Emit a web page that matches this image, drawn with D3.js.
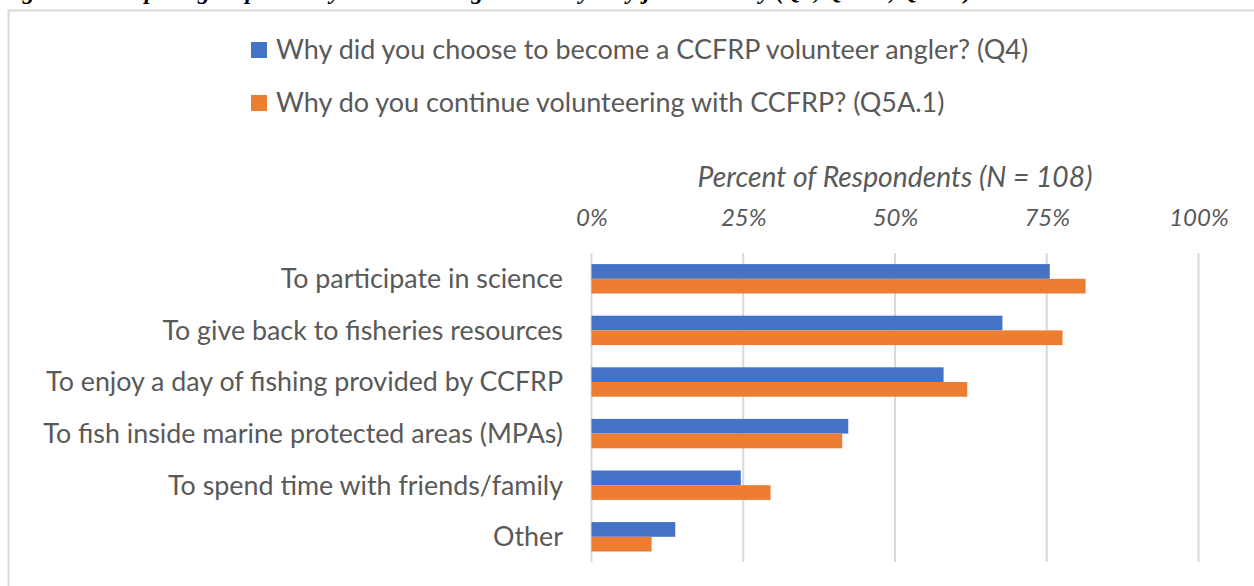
<!DOCTYPE html>
<html><head><meta charset="utf-8">
<script src="https://cdn.jsdelivr.net/npm/d3@7"></script>
<style>
html,body{margin:0;padding:0;background:#fff;}
svg{display:block;}
text{font-family:Lato,"Open Sans","Noto Sans",sans-serif;}
</style></head>
<body>
<svg id="chart" width="1254" height="586"></svg>
<script>
const categories = [
  "To participate in science",
  "To give back to fisheries resources",
  "To enjoy a day of fishing provided by CCFRP",
  "To fish inside marine protected areas (MPAs)",
  "To spend time with friends/family",
  "Other"
];
const seriesNames = [
  "Why did you choose to become a CCFRP volunteer angler? (Q4)",
  "Why do you continue volunteering with CCFRP? (Q5A.1)"
];
const q4Values = [75.5, 67.7, 58.0, 42.3, 24.6, 13.8];
const q5Values = [81.4, 77.6, 61.9, 41.3, 29.5, 9.9];
const tickValues = [0, 25, 50, 75, 100];
const axisTitle = "Percent of Respondents (N = 108)";
const cutTitle = "Figure 2. Comparing responses by volunteer anglers to why they join and stay (Q4, Q5A.1, Q5A.2)";
const colors = ["#4472c4", "#ed7d31"];

const svg = d3.select("#chart");
const textColor = "#595959";

// cut-off caption at very top (cropped in the reference)
svg.append("text").attr("x", 0).attr("y", -1)
  .style("font-family", "'Liberation Serif','DejaVu Serif',serif")
  .style("font-style", "italic").style("font-weight", "bold")
  .style("font-size", "24px").attr("fill", "#000").text(cutTitle);

// chart frame
svg.append("path").attr("d", "M8.5,586 V10.5 H1254")
  .attr("fill", "none").attr("stroke", "#d9d9d9").attr("stroke-width", 2);

const x = d3.scaleLinear().domain([0, 100]).range([591.5, 1198.5]);
const y = d3.scaleBand().domain(categories).range([253, 562.6]).paddingInner(0.43).paddingOuter(0.215);
const ySub = d3.scaleBand().domain([0, 1]).range([0, y.bandwidth()]);

// gridlines
svg.append("g").selectAll("line").data(tickValues).join("line")
  .attr("x1", d => x(d)).attr("x2", d => x(d))
  .attr("y1", 253).attr("y2", 562)
  .attr("stroke", "#d9d9d9").attr("stroke-width", 2);

// top axis tick labels
const axis = d3.axisTop(x).tickValues(tickValues).tickFormat(d => d + "%").tickSize(0).tickPadding(0);
const gAxis = svg.append("g").attr("transform", "translate(0,226)").call(axis);
gAxis.select(".domain").remove();
gAxis.selectAll("text").attr("fill", textColor)
  .style("font-size", "24px").style("font-style", "italic")
  .style("font-family", "Lato,'Open Sans',sans-serif");

// axis title
svg.append("text").attr("x", x(50)).attr("y", 177).attr("dy", "0.35em")
  .attr("text-anchor", "middle").attr("fill", textColor)
  .style("font-size", "23px").style("font-style", "italic").text(axisTitle);

// bars
const series = [q4Values, q5Values];
series.forEach((vals, si) => {
  svg.append("g").selectAll("rect").data(vals).join("rect")
    .attr("x", x(0))
    .attr("y", (d, i) => y(categories[i]) + ySub(si))
    .attr("width", d => x(d) - x(0))
    .attr("height", ySub.bandwidth())
    .attr("fill", colors[si]);
});

// category labels
const labels = svg.append("g").selectAll("text").data(categories).join("text")
  .attr("x", 563).attr("y", d => y(d) + y.bandwidth() / 2).attr("dy", "0.35em")
  .attr("text-anchor", "end").attr("fill", textColor)
  .style("font-size", "23px").text(d => d);

// legend
const legendY = [50, 103];
seriesNames.forEach((name, i) => {
  svg.append("rect").attr("x", 251).attr("y", legendY[i] - 8).attr("width", 16).attr("height", 16)
    .attr("fill", colors[i]);
  svg.append("text").attr("class", "leg").attr("x", 276).attr("y", legendY[i]).attr("dy", "0.35em")
    .attr("fill", textColor).style("font-size", "23px").text(name);
});

// fit font sizes to reference widths
function fit(sel, node, target) {
  const w = node.getComputedTextLength();
  const fs = parseFloat(sel.style("font-size"));
  sel.style("font-size", (fs * target / w).toFixed(2) + "px");
}
const longLab = labels.filter(d => d === categories[2]);
const w0 = longLab.node().getComputedTextLength();
const fsL = 23 * 517 / w0;
labels.style("font-size", fsL.toFixed(2) + "px");
const legs = svg.selectAll("text.leg");
const lw = legs.nodes()[0].getComputedTextLength();
legs.style("font-size", (23 * 752 / lw).toFixed(2) + "px");
const at = svg.selectAll("text").filter(function(){ return this.textContent === axisTitle; });
fit(at, at.node(), 395);
</script>
</body></html>
